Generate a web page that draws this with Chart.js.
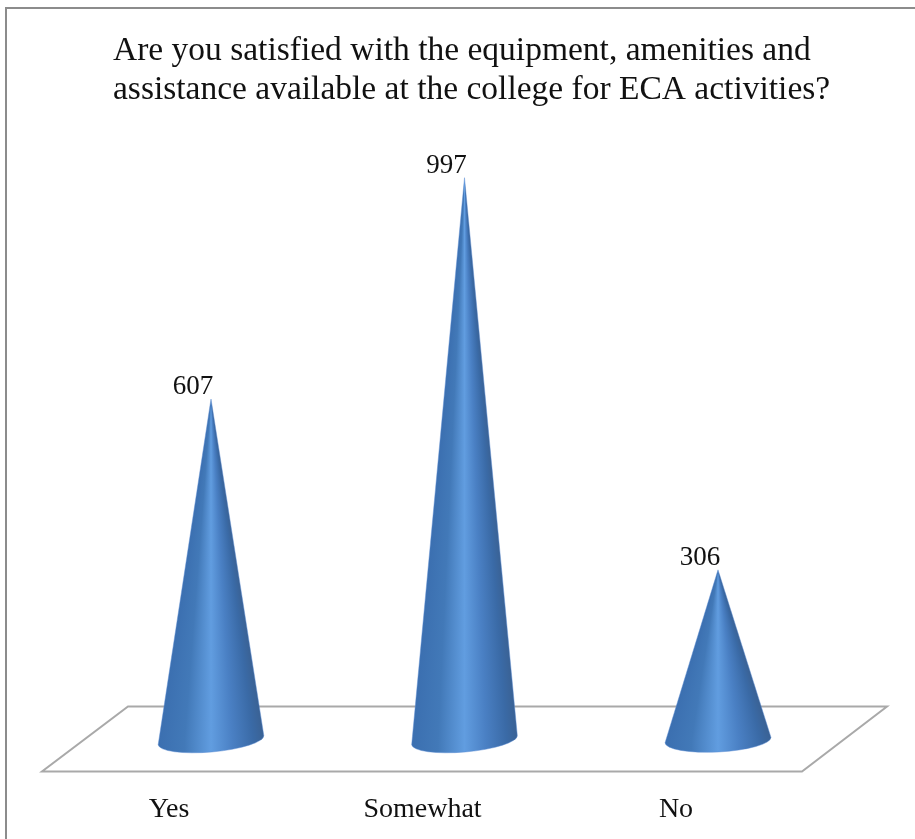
<!DOCTYPE html>
<html>
<head>
<meta charset="utf-8">
<style>
  html, body { margin: 0; padding: 0; background: #fff; }
  #box { width: 915px; height: 839px; }
</style>
<script src="https://cdn.jsdelivr.net/npm/chart.js@4"></script>
</head>
<body>
<div id="box"><canvas id="myChart"></canvas></div>
<script>
const titleLines = [
    "Are you satisfied with the equipment, amenities and",
    "assistance available at the college for ECA activities?"
];
const categories = ["Yes", "Somewhat", "No"];
const responses = [607, 997, 306];

const serif = "'Liberation Serif', serif";

const conePlugin = {
    id: "cones",
    beforeDraw(chart) {
        const ctx = chart.ctx;
        const area = chart.chartArea;
        ctx.save();
        // frame, only top and left show in the picture
        ctx.strokeStyle = "#8c8c8c";
        ctx.lineWidth = 2;
        ctx.beginPath();
        ctx.moveTo(6, 839);
        ctx.lineTo(6, 8);
        ctx.lineTo(915, 8);
        ctx.stroke();
        // floor of the 3d chart
        ctx.strokeStyle = "#a9a9a9";
        ctx.beginPath();
        ctx.moveTo(area.left - 83, area.bottom - 37);
        ctx.lineTo(area.right + 169, area.bottom - 37);
        ctx.lineTo(area.right + 84, area.bottom + 28);
        ctx.lineTo(area.left - 169, area.bottom + 28);
        ctx.closePath();
        ctx.stroke();
        ctx.restore();
    },
    afterDatasetsDraw(chart) {
        const ctx = chart.ctx;
        const tilts = [-5, -5, -3];
        chart.getDatasetMeta(0).data.forEach((bar, i) => {
            const a = bar.width / 2;
            const b = 12;
            const cy = bar.base - 3.5;
            const r = tilts[i] * Math.PI / 180;
            const outline = () => {
                // tip down to the left end, round the front, back to the tip
                ctx.beginPath();
                ctx.moveTo(bar.x, bar.y);
                ctx.ellipse(bar.x, cy, a, b, r, Math.PI, 0, true);
                ctx.closePath();
            };
            ctx.save();
            outline();
            ctx.clip();
            // one gradient per pixel row so the shading narrows toward the tip
            for (let y = Math.floor(bar.y); y < cy + b + 6; y++) {
                const half = Math.max(1, a * Math.min(1, (y - bar.y) / (cy - bar.y)));
                const g = ctx.createLinearGradient(bar.x - half, 0, bar.x + half, 0);
                g.addColorStop(0, "#3b6fb0");
                g.addColorStop(0.25, "#4279b8");
                g.addColorStop(0.5, "#619de0");
                g.addColorStop(0.7, "#4a80c4");
                g.addColorStop(0.9, "#3a6aa6");
                g.addColorStop(1, "#3a6295");
                ctx.fillStyle = g;
                ctx.fillRect(bar.x - half - 2, y, 2 * half + 4, 1);
            }
            ctx.restore();
            // soft edge, the reference is a little blurred
            ctx.save();
            outline();
            ctx.strokeStyle = "rgba(90,140,210,0.45)";
            ctx.lineWidth = 1;
            ctx.stroke();
            ctx.restore();
            // value above the tip
            ctx.save();
            ctx.font = "27px " + serif;
            ctx.fillStyle = "#111";
            ctx.textAlign = "center";
            ctx.textBaseline = "middle";
            ctx.fillText(String(responses[i]), bar.x - 18, bar.y - 12);
            ctx.restore();
        });
    }
};

new Chart(document.getElementById("myChart"), {
    type: "bar",
    data: {
        labels: categories,
        datasets: [{
            label: "Responses",
            data: responses,
            backgroundColor: "rgba(0,0,0,0)",
            barThickness: 106
        }]
    },
    options: {
        responsive: true,
        maintainAspectRatio: false,
        animation: false,
        // title is squeezed to the padded width, so the right gap comes from a blank axis
        layout: { padding: { left: 113, right: 0, top: 0, bottom: 0 } },
        plugins: {
            legend: { display: false },
            tooltip: { enabled: false },
            title: {
                display: true,
                text: titleLines,
                align: "start",
                color: "#111",
                font: { family: serif, size: 33.5, weight: "normal", lineHeight: 1.164 },
                padding: { top: 32, bottom: 66 }
            }
        },
        scales: {
            x: {
                offset: false,
                grid: { display: false },
                border: { display: false },
                ticks: {
                    color: "#111",
                    font: { family: serif, size: 28 },
                    padding: 41,
                    labelOffset: -42
                },
                // padding counts twice in the axis height, so set it by hand
                afterFit(scale) { scale.height = 95.5; }
            },
            y: {
                min: 0,
                max: 1000,
                grid: { display: false },
                border: { display: false },
                ticks: { display: false },
                afterFit(scale) { scale.width = 98; }
            },
            blank: {
                position: "right",
                grid: { display: false },
                border: { display: false },
                ticks: { display: false },
                afterFit(scale) { scale.width = 197; }
            }
        }
    },
    plugins: [conePlugin]
});
</script>
</body>
</html>
